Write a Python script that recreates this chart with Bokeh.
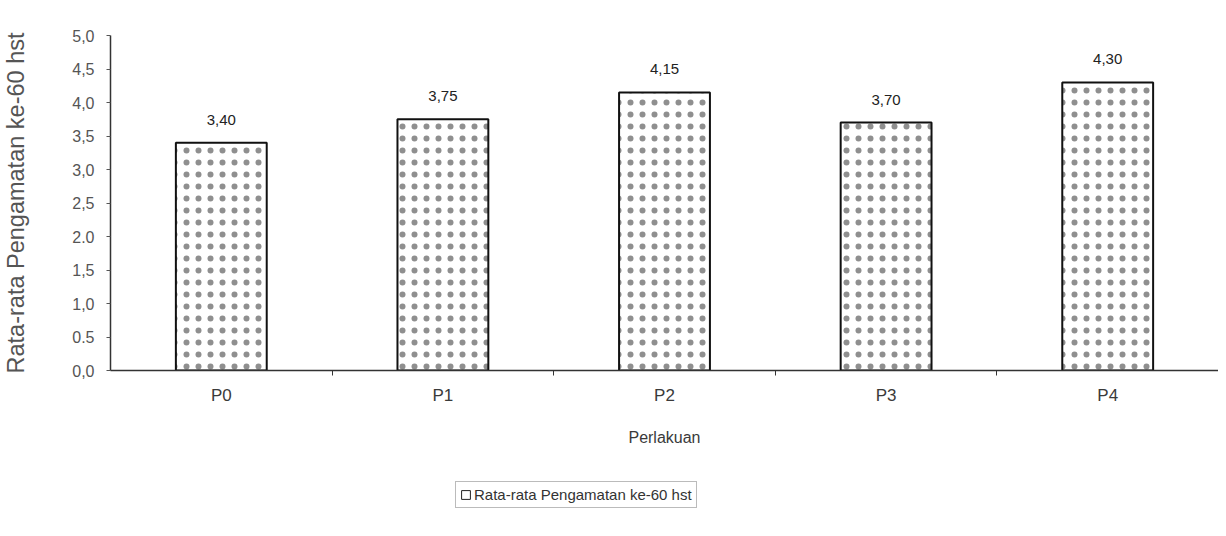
from bokeh.plotting import figure
from bokeh.layouts import column
from bokeh.models import (Range1d, FixedTicker, ColumnDataSource, LabelSet, Legend,
                          LegendItem, CustomJSTickFormatter)
from bokeh.core.properties import value
from bokeh.embed import file_html
from bokeh.resources import INLINE

# ---- data ----
categories = ["P0", "P1", "P2", "P3", "P4"]
values = [3.40, 3.75, 4.15, 3.70, 4.30]
value_labels = ["3,40", "3,75", "4,15", "3,70", "4,30"]
y_ticks = [0.0, 0.5, 1.0, 1.5, 2.0, 2.5, 3.0, 3.5, 4.0, 4.5, 5.0]
y_tick_labels = ["0,0", "0.5", "1,0", "1,5", "2.0", "2,5", "3,0", "3,5", "4,0", "4,5", "5,0"]
series_name = "Rata-rata Pengamatan ke-60 hst"
x_title = "Perlakuan"
y_title = "Rata-rata Pengamatan ke-60 hst"

FONT = "Liberation Sans"
TXT = "#3a3a3a"

n = len(categories)
xs = [i + 0.5 for i in range(n)]
bounds = [float(i) for i in range(1, n)]
src = ColumnDataSource(dict(x=xs, top=values, label=value_labels))

p = figure(frame_width=1108, frame_height=335,
           x_range=Range1d(0, n), y_range=Range1d(0, 5.0),
           min_border_left=110, min_border_right=0, min_border_top=35,
           min_border_bottom=100,
           output_backend="svg", toolbar_location=None)
p.outline_line_color = None
p.xgrid.visible = False
p.ygrid.visible = False
p.background_fill_color = "white"

bars = p.vbar(x="x", top="top", width=0.41, source=src,
              fill_color="white", line_color="#111111", line_width=2,
              hatch_pattern="dot", hatch_color="#333333", hatch_scale=12,
              hatch_weight=0.5, hatch_alpha=0.55)

labels = LabelSet(x="x", y="top", text="label", source=src,
                  text_align="center", text_baseline="bottom", y_offset=18,
                  text_font=value(FONT), text_font_size="15px",
                  text_color="#222222")
p.add_layout(labels)

# x axis
xa = p.xaxis[0]
xa.ticker = FixedTicker(ticks=xs, minor_ticks=bounds)
xa.formatter = CustomJSTickFormatter(args=dict(cats=categories),
                                     code="return cats[Math.floor(tick)];")
xa.major_tick_line_color = None
xa.minor_tick_line_color = "#333333"
xa.minor_tick_in = 0
xa.minor_tick_out = 5
xa.axis_line_color = "#333333"
xa.axis_line_width = 1.5
xa.major_label_text_font = FONT
xa.major_label_text_font_size = "17px"
xa.major_label_text_color = TXT
xa.major_label_standoff = 9
xa.axis_label = x_title
xa.axis_label_text_font = FONT
xa.axis_label_text_font_style = "normal"
xa.axis_label_text_font_size = "16px"
xa.axis_label_text_color = TXT
xa.axis_label_standoff = 21

# y axis
ya = p.yaxis[0]
ya.ticker = FixedTicker(ticks=y_ticks, minor_ticks=[])
ya.major_label_overrides = {t: l for t, l in zip(y_ticks, y_tick_labels)}
ya.major_tick_in = 0
ya.major_tick_out = 4
ya.major_tick_line_color = "#555555"
ya.axis_line_color = "#333333"
ya.axis_line_width = 1.5
ya.major_label_text_font = FONT
ya.major_label_text_font_size = "16px"
ya.major_label_text_color = "#555555"
ya.major_label_standoff = 12
ya.axis_label = y_title
ya.axis_label_text_font = FONT
ya.axis_label_text_font_style = "normal"
ya.axis_label_text_font_size = "23.5px"
ya.axis_label_text_color = "#555555"
ya.axis_label_standoff = 40

# legend strip below the chart
lg = figure(width=1218, height=58, x_range=Range1d(0, 1), y_range=Range1d(0, 1),
            min_border=0, output_backend="svg", toolbar_location=None)
lg.axis.visible = False
lg.grid.visible = False
lg.outline_line_color = None
proxy = lg.vbar(x="x", top="top", width=0.41, source=src, fill_color="white",
                line_color="#222222", line_width=1, visible=False)
legend = Legend(items=[LegendItem(label=series_name, renderers=[proxy])],
                orientation="horizontal", location=(345, 20),
                border_line_color="#777777", border_line_width=1,
                padding=4, margin=0, glyph_width=11, glyph_height=11,
                label_text_font=FONT, label_text_font_size="15px",
                label_text_color="#333333", label_standoff=3,
                background_fill_alpha=0, inactive_fill_alpha=0)
lg.add_layout(legend)

layout = column(p, lg, spacing=0)
open("out.html", "w").write(file_html(layout, INLINE))
